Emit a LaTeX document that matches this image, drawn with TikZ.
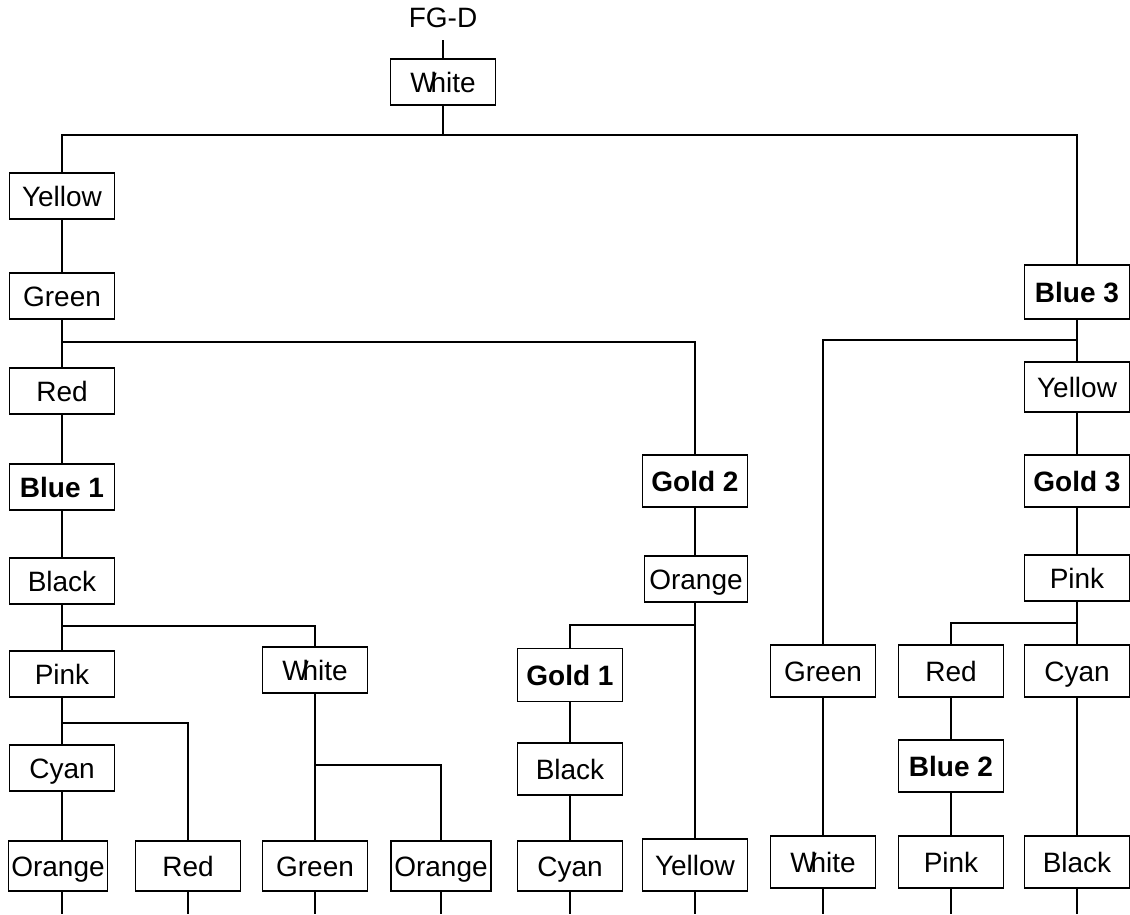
\documentclass[tikz,border=0pt]{standalone}
\usepackage{fontspec}
\setmainfont{Liberation Sans}
\newcommand{\Wh}{W\kern-0.22em hite}
\begin{document}
\begin{tikzpicture}[x=1pt,y=-1pt,
  box/.style={draw,line width=1.3pt,minimum width=105pt,minimum height=46pt,inner sep=0pt,text height=20pt,text depth=0pt,font=\fontsize{28}{32}\selectfont},
  bbox/.style={box,font=\fontsize{28}{32}\selectfont\bfseries},
  conn/.style={line width=1.3pt}]
\useasboundingbox (0,0) rectangle (1130,914);
% nodes
\node[font=\fontsize{28}{32}\selectfont,inner sep=0pt,text height=20pt,text depth=0pt] (fgd) at (443,17) {FG-D};
\node[box] (top) at (443,82) {\Wh};
\node[box] (yellowL) at (62,196) {Yellow};
\node[box] (greenL) at (62,296) {Green};
\node[box] (redL) at (62,391) {Red};
\node[bbox] (blue1) at (62,487) {Blue 1};
\node[box] (blackL) at (62,581) {Black};
\node[box] (pinkL) at (62,674) {Pink};
\node[box] (whiteM) at (315,670) {\Wh};
\node[box] (cyanL) at (62,768) {Cyan};
\node[box,minimum width=99pt,minimum height=50pt] (orangeL) at (58,866) {Orange};
\node[box,minimum height=50pt] (redB) at (188,866) {Red};
\node[box,minimum height=50pt] (greenB) at (315,866) {Green};
\node[box,minimum width=100pt,minimum height=50pt] (orangeB) at (441,866) {Orange};
\node[bbox,minimum height=52pt] (gold2) at (695,481) {Gold 2};
\node[box,minimum width=103pt] (orangeR) at (696,579) {Orange};
\node[bbox,minimum height=53pt] (gold1) at (570,675) {Gold 1};
\node[box,minimum height=52pt] (blackM) at (570,769) {Black};
\node[box,minimum height=50pt] (cyanB) at (570,866) {Cyan};
\node[box,minimum height=52pt] (yellowB) at (695,865) {Yellow};
\node[bbox,minimum height=54pt] (blue3) at (1077,292) {Blue 3};
\node[box,minimum height=50pt] (yellowR) at (1077,387) {Yellow};
\node[bbox,minimum height=52pt] (gold3) at (1077,481) {Gold 3};
\node[box] (pinkR) at (1077,578) {Pink};
\node[box,minimum height=52pt] (greenR) at (823,671) {Green};
\node[box,minimum height=52pt] (redR) at (951,671) {Red};
\node[box,minimum height=52pt] (cyanR) at (1077,671) {Cyan};
\node[bbox,minimum height=52pt] (blue2) at (951,766) {Blue 2};
\node[box,minimum height=52pt] (whiteB) at (823,862) {\Wh};
\node[box,minimum height=52pt] (pinkB) at (951,862) {Pink};
\node[box,minimum height=52pt] (blackR) at (1077,862) {Black};
% branch coordinates
\coordinate (t0) at (443,40);
\coordinate (b0) at (443,135);
\coordinate (b1) at (62,342);
\coordinate (b2) at (62,626);
\coordinate (b3) at (62,723);
\coordinate (b4) at (315,765);
\coordinate (b5) at (695,625);
\coordinate (b6) at (1077,340);
\coordinate (b7) at (1077,623);
\coordinate (bot) at (0,914);
% connectors
\draw[conn] (t0) -- (top.north);
\draw[conn] (top.south) -- (b0);
\draw[conn] (yellowL.north) -- (yellowL.north |- b0) -- (blue3.north |- b0) -- (blue3.north);
\draw[conn] (yellowL) -- (greenL);
\draw[conn] (greenL) -- (redL);
\draw[conn] (b1) -| (gold2.north);
\draw[conn] (redL) -- (blue1);
\draw[conn] (blue1) -- (blackL);
\draw[conn] (blackL) -- (pinkL);
\draw[conn] (b2) -| (whiteM.north);
\draw[conn] (pinkL) -- (cyanL);
\draw[conn] (b3) -| (redB.north);
\draw[conn] (cyanL.south) -- (cyanL.south |- orangeL.north);
\draw[conn] (whiteM) -- (greenB);
\draw[conn] (b4) -| (orangeB.north);
\draw[conn] (gold2.south) -- (gold2.south |- orangeR.north);
\draw[conn] (gold2.south |- orangeR.south) -- (yellowB.north);
\draw[conn] (b5) -| (gold1.north);
\draw[conn] (gold1) -- (blackM);
\draw[conn] (blackM) -- (cyanB);
\draw[conn] (blue3) -- (yellowR);
\draw[conn] (b6) -| (greenR.north);
\draw[conn] (yellowR) -- (gold3);
\draw[conn] (gold3) -- (pinkR);
\draw[conn] (pinkR) -- (cyanR);
\draw[conn] (b7) -| (redR.north);
\draw[conn] (cyanR) -- (blackR);
\draw[conn] (greenR) -- (whiteB);
\draw[conn] (redR) -- (blue2);
\draw[conn] (blue2) -- (pinkB);
% bottom stubs
\foreach \n/\xx in {orangeL/62,redB/188,greenB/315,orangeB/441,cyanB/570,yellowB/695,whiteB/823,pinkB/951,blackR/1077}
  \draw[conn] (\xx,0 |- \n.south) -- (\xx,0 |- bot);
\end{tikzpicture}
\end{document}
